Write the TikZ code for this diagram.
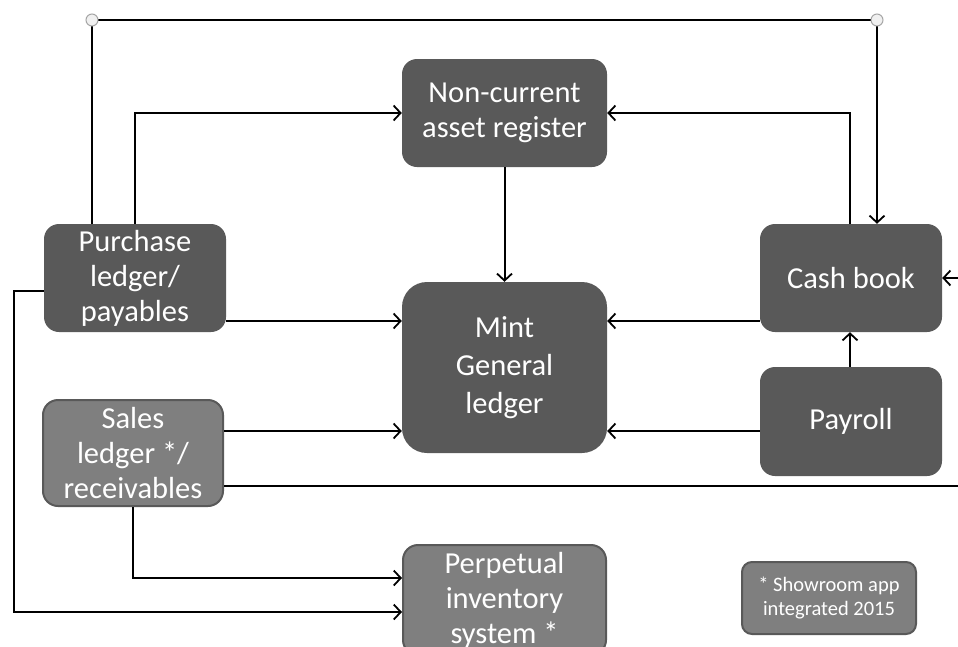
\documentclass[tikz,border=0pt]{standalone}
\usepackage{fontspec}
\setmainfont{Carlito}
\usetikzlibrary{arrows.meta,calc}
\definecolor{darkbox}{HTML}{595959}
\definecolor{lightbox}{HTML}{7F7F7F}
\tikzset{
  darkstyle/.style={rounded corners=15pt, fill=darkbox, text=white, align=center, inner sep=0pt,
    font=\fontsize{30.5}{35}\selectfont},
  lightstyle/.style={darkstyle, fill=lightbox, draw=darkbox, line width=2pt},
  notestyle/.style={lightstyle, rounded corners=10pt, font=\fontsize{20.5}{24}\selectfont},
  conn/.style={line width=2pt, black},
  arr/.style={conn, -{Straight Barb[length=7pt,width=15pt,line width=1.8pt]}},
  handle/.style={circle, draw=gray!70, fill=gray!12, line width=1pt, minimum size=12pt, inner sep=0pt},
}
\begin{document}
\begin{tikzpicture}[x=1pt,y=-1pt]
\useasboundingbox (0,0) rectangle (958,646);
% nodes
\node[darkstyle, minimum width=205pt, minimum height=108pt] (ncar) at (504.5,113) {Non-current\\asset register};
\node[darkstyle, minimum width=182pt, minimum height=108pt] (purch) at (135,278) {Purchase\\ledger/\\payables};
\node[darkstyle, rounded corners=25pt, minimum width=205pt, minimum height=171pt, font=\fontsize{30.5}{38}\selectfont] (mint) at (504.5,367.5) {Mint\\General\\ledger};
\node[darkstyle, minimum width=182pt, minimum height=108pt] (cash) at (851,278) {Cash book};
\node[darkstyle, minimum width=182pt, minimum height=109pt] (payroll) at (851,421.5) {Payroll};
\node[lightstyle, minimum width=180pt, minimum height=106pt] (sales) at (133,453) {Sales\\ledger */\\receivables};
\node[lightstyle, minimum width=203pt, minimum height=110pt] (inv) at (504.5,600) {Perpetual\\inventory\\system *};
\node[notestyle, minimum width=174pt, minimum height=72pt] (note) at (829,598) {* Showroom app\\integrated 2015};
% coordinates
\coordinate (c1) at (92,20);
\coordinate (c2) at (877,20);
\coordinate (re1) at (958,278);
\coordinate (re2) at (958,486);
\coordinate (l1) at (14,291);
\coordinate (l2) at (14,612);
% connectors
\draw[arr] (purch.north -| c1) -- (c1) -- (c2) -- (cash.north -| c2);
\draw[arr] (purch.north -| 135,0) |- (ncar.west);
\draw[arr] (cash.north -| 850,0) |- (ncar.east);
\draw[arr] (ncar) -- (mint);
\draw[arr] (purch.east |- 0,321) -- (mint.west |- 0,321);
\draw[arr] (sales.east |- 0,431) -- (mint.west |- 0,431);
\draw[arr] (cash.west |- 0,321) -- (mint.east |- 0,321);
\draw[arr] (payroll.west |- 0,431) -- (mint.east |- 0,431);
\draw[arr] (payroll.north -| 850,0) -- (cash.south -| 850,0);
\draw[arr] (re1) -- (cash.east);
\draw[conn] (sales.east |- re2) -- (re2);
\draw[arr] (purch.west |- l1) -- (l1) -- (l2) -- (inv.west |- l2);
\draw[arr] (sales.south -| 133,0) |- (inv.west |- 0,578);
% handles
\node[handle] (h1) at (c1) {};
\node[handle] (h2) at (c2) {};
\end{tikzpicture}
\end{document}
